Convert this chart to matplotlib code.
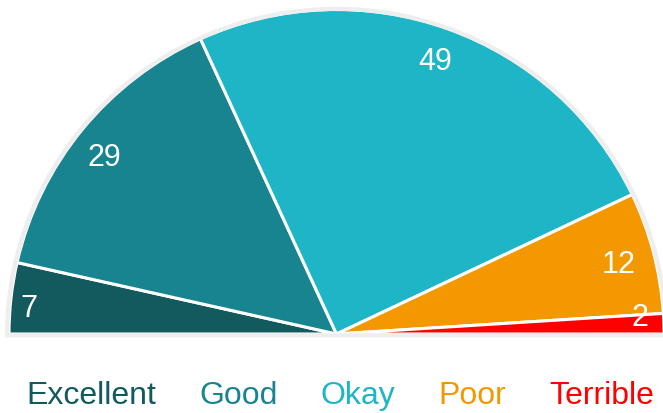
import matplotlib
matplotlib.use("Agg")
import matplotlib.pyplot as plt
import numpy as np
from matplotlib.patches import Wedge
from matplotlib.lines import Line2D

categories = ["Excellent", "Good", "Okay", "Poor", "Terrible"]
values = [7, 29, 49, 12, 2]
colors = ["#125a5e", "#17848f", "#1eb6c6", "#f39800", "#ff0000"]

plt.rcParams['font.family'] = ['Liberation Sans', 'DejaVu Sans']

W, H = 663, 414
fig = plt.figure(figsize=(W / 100, H / 100), dpi=100)
ax = fig.add_axes([0, 0, 1, 1])

# half pie: add a hidden wedge equal to the total
all_vals = values + [sum(values)]
wedges, texts = ax.pie(all_vals, colors=colors + ["none"], startangle=180,
                       counterclock=False, radius=1.0, center=(0, 0),
                       labels=[str(v) for v in values] + [""],
                       labeldistance=0.9,
                       wedgeprops=dict(edgecolor="white", linewidth=2.2),
                       textprops=dict(color="white", fontsize=22))
wedges[-1].set_visible(False)
texts[-1].set_visible(False)

# fine-tune label placement (radius fraction, angle offset in degrees)
label_r = [0.945, 0.9, 0.905, 0.89, 0.93]
label_dang = [0.8, 1.0, 0.6, 0.2, 2.0]
for w, t, r, da in zip(wedges[:-1], texts[:-1], label_r, label_dang):
    mid = np.deg2rad((w.theta1 + w.theta2) / 2 + da)
    t.set_position((r * np.cos(mid), r * np.sin(mid)))
    t.set_ha("center")
    t.set_va("center_baseline")

# light grey outline around the half disc (arc + diameter)
outline = Wedge((0, -0.004), 1.006, 0, 180, facecolor="none",
                edgecolor="#eeeeee", linewidth=3.0, zorder=5)
ax.add_patch(outline)

# pixel mapping (slightly wider than tall, as in the reference)
rx, ry = 327.5, 324.5
cx, cy = 336.5, 335.0
ax.set_aspect("auto")
ax.set_xlim(-cx / rx, (W - cx) / rx)
ax.set_ylim(-(H - cy) / ry, cy / ry)
ax.axis("off")

handles = [Line2D([], [], linestyle="none") for _ in categories]
fig.legend(handles, categories, loc="center", ncol=5,
           bbox_to_anchor=(340.5 / W, 1 - 396 / H), frameon=False,
           handlelength=0, handletextpad=0, columnspacing=1.35,
           labelcolor=colors, fontsize=23, borderpad=0, borderaxespad=0)

fig.savefig("out.png", dpi=100)
